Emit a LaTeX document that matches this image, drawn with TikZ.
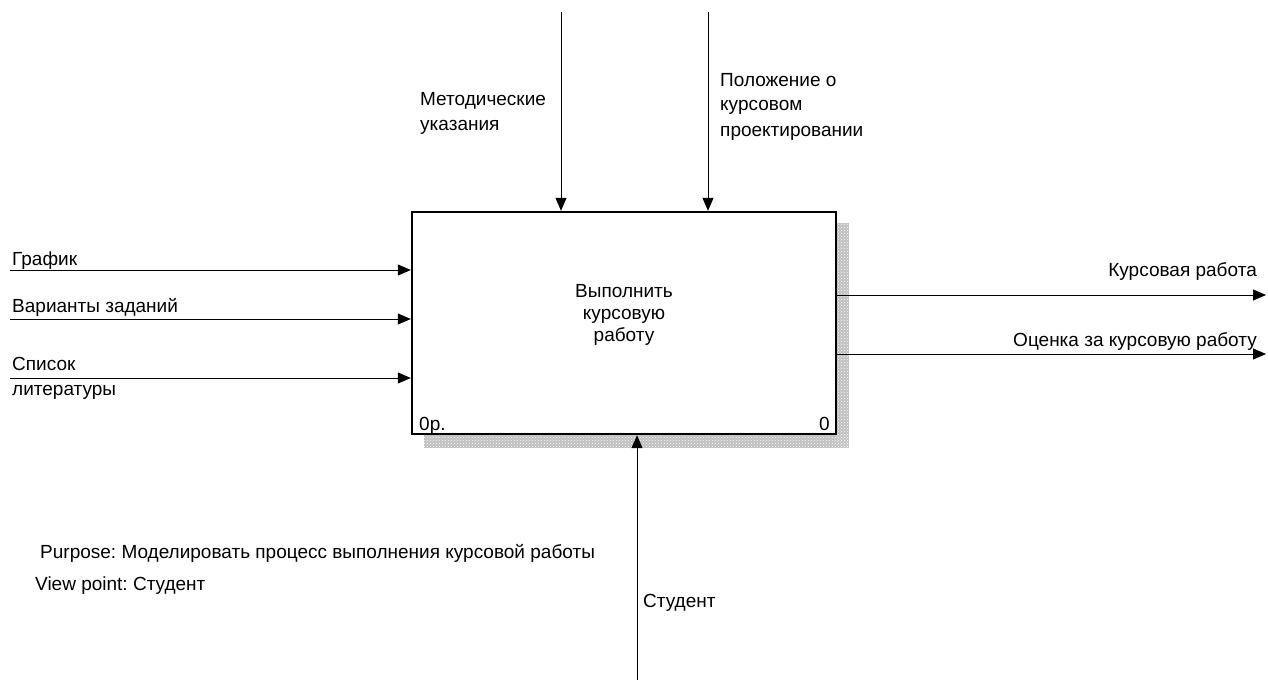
\documentclass[tikz,border=0pt]{standalone}
\usepackage{fontspec}
\setmainfont{Liberation Sans}
\frenchspacing
\usetikzlibrary{arrows.meta,patterns}
\tikzset{
  arr/.style={line width=1pt,-{Triangle[length=13pt,width=11pt]}},
  lbl/.style={inner sep=0pt,font=\fontsize{19}{25}\selectfont,align=left},
  actbox/.style={draw,line width=2.4pt,fill=white,minimum width=424pt,minimum height=222pt,inner sep=0pt}
}
\begin{document}
\begin{tikzpicture}[x=1pt,y=-1pt]
\useasboundingbox (0,0) rectangle (1268,682);
% drop shadow of the activity box: grey ground with a fine dotted texture
\fill[gray!50] (836,223) rectangle (849,448);
\fill[gray!50] (424,434) rectangle (849,448);
\fill[pattern=crosshatch dots,pattern color=white] (836,223) rectangle (849,448);
\fill[pattern=crosshatch dots,pattern color=white] (424,434) rectangle (849,448);
% activity box
\node[actbox] (box) at (624,323) {};
\node[lbl,align=center,font=\fontsize{19}{22}\selectfont,anchor=base] (name) at (624,341) {Выполнить\\курсовую\\работу};
\node[lbl,anchor=base west] (num) at (419,430) {0р.};
\node[lbl,anchor=base east] (nr) at (830,430) {0};
% free ends of connectors
\coordinate (i1) at (10,270);
\coordinate (i2) at (10,319);
\coordinate (i3) at (10,378);
\coordinate (c1) at (561,12);
\coordinate (c2) at (708,12);
\coordinate (o1) at (1266,295);
\coordinate (o2) at (1266,354);
\coordinate (m1) at (637,680);
% inputs
\draw[arr] (i1) -- (i1 -| box.west);
\draw[arr] (i2) -- (i2 -| box.west);
\draw[arr] (i3) -- (i3 -| box.west);
% controls
\draw[arr] (c1) -- (c1 |- box.north);
\draw[arr] (c2) -- (c2 |- box.north);
% outputs
\draw[arr] (o1 -| box.east) -- (o1);
\draw[arr] (o2 -| box.east) -- (o2);
% mechanism
\draw[arr] (m1) -- (m1 |- box.south);
% connector labels (multi-line labels are placed by their last baseline)
\node[lbl,anchor=base west] (li1) at (12,265) {График};
\node[lbl,anchor=base west] (li2) at (12,312) {Варианты заданий};
\node[lbl,anchor=base west] (li3) at (12,395) {Список\\литературы};
\node[lbl,anchor=base west] (lc1) at (420,131) {Методические\\указания};
\node[lbl,anchor=base west] (lc2) at (720,136) {Положение о\\курсовом\\проектировании};
\node[lbl,anchor=base east] (lo1) at (1257,276) {Курсовая работа};
\node[lbl,anchor=base east] (lo2) at (1257,346) {Оценка за курсовую работу};
\node[lbl,anchor=base west] (lm1) at (643,607) {Студент};
% model notes
\node[lbl,anchor=base west] (purpose) at (40,558) {Purpose: Моделировать процесс выполнения курсовой работы};
\node[lbl,anchor=base west] (view) at (35,590) {View point: Студент};
\end{tikzpicture}
\end{document}
